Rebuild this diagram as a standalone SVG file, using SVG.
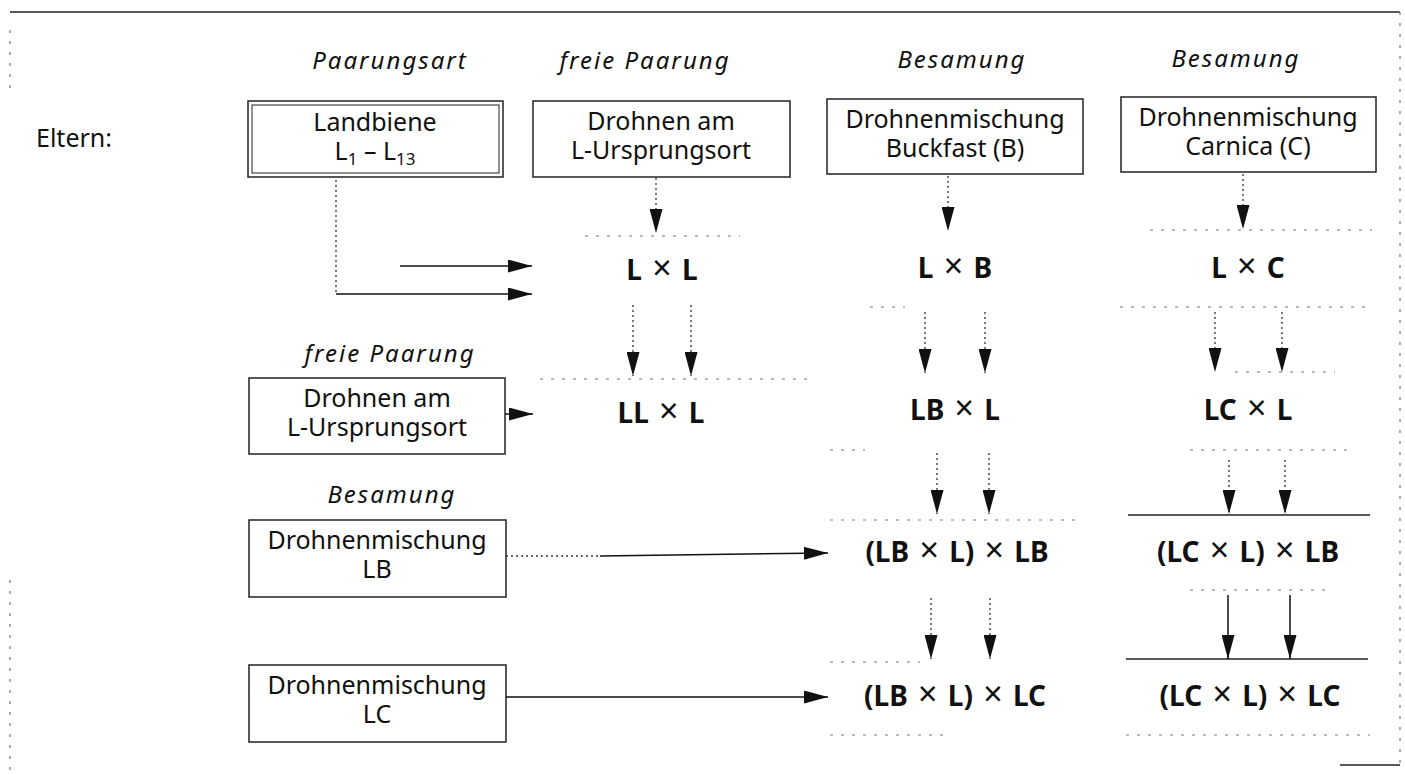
<svg xmlns="http://www.w3.org/2000/svg" width="1405" height="775" viewBox="0 0 1405 775">
<defs>
<marker id="ah" markerUnits="userSpaceOnUse" markerWidth="24" markerHeight="13" refX="24" refY="6.5" orient="auto">
<path d="M0,0 L24,6.5 L0,13 Z" fill="#111"/>
</marker>
</defs>
<style>
.box{fill:#fff;stroke:#222;stroke-width:1.5}
.t{font-family:"Noto Sans","Liberation Sans",sans-serif;font-size:25px;fill:#111;text-anchor:middle}
.lbl{font-family:"Noto Sans","Liberation Sans",sans-serif;font-size:25px;fill:#111}
.h{font-family:"Noto Sans","Liberation Sans",sans-serif;font-size:24px;font-style:italic;letter-spacing:2px;fill:#111;text-anchor:middle}
.r{font-family:"Noto Sans","Liberation Sans",sans-serif;font-size:28px;font-weight:700;word-spacing:3px;fill:#111;text-anchor:middle}
.x{font-weight:400;font-size:34px}
.sub{font-size:17px}
.c{stroke:#111;stroke-width:1.5;fill:none}
.cd{stroke:#333;stroke-width:1.3;fill:none;stroke-dasharray:2 3}
.faint{stroke:#777;stroke-width:1.2;fill:none;stroke-dasharray:3 8}
.solid{stroke:#222;stroke-width:1.5;fill:none}
.frame{stroke:#222;stroke-width:1.5;fill:none}
</style>

<g id="frame">
<line class="frame" x1="10" y1="12" x2="1400" y2="12"/>
<line class="faint" x1="1400" y1="12" x2="1400" y2="765"/>
<line class="faint" x1="10" y1="30" x2="10" y2="90"/>
<line class="faint" x1="10" y1="580" x2="10" y2="770"/>
<line class="frame" x1="1340" y1="765" x2="1400" y2="765"/>
</g>

<g id="headers">
<text class="h" x="390" y="69">Paarungsart</text>
<text class="h" x="645" y="69">freie Paarung</text>
<text class="h" x="962" y="68">Besamung</text>
<text class="h" x="1236" y="67">Besamung</text>
<text class="h" x="390" y="362">freie Paarung</text>
<text class="h" x="392" y="503">Besamung</text>
</g>

<g id="eltern">
<text class="lbl" x="36" y="147">Eltern:</text>
</g>

<g id="n-landbiene">
<rect class="box" x="248" y="101" width="255" height="76"/>
<rect x="252" y="105" width="247" height="68" fill="none" stroke="#222" stroke-width="1"/>
<text class="t" x="375" y="131">Landbiene<tspan x="375" y="160">L</tspan><tspan class="sub" dy="5">1</tspan><tspan dy="-5"> – L</tspan><tspan class="sub" dy="5">13</tspan></text>
</g>

<g id="n-drohnen-top">
<rect class="box" x="533" y="101" width="257" height="76"/>
<text class="t" x="661" y="130">Drohnen am<tspan x="661" y="159">L-Ursprungsort</tspan></text>
</g>

<g id="n-buckfast">
<rect class="box" x="827" y="99" width="256" height="75"/>
<text class="t" x="955" y="128">Drohnenmischung<tspan x="955" y="157">Buckfast (B)</tspan></text>
</g>

<g id="n-carnica">
<rect class="box" x="1121" y="97" width="255" height="75"/>
<text class="t" x="1248" y="126">Drohnenmischung<tspan x="1248" y="155">Carnica (C)</tspan></text>
</g>

<g id="n-drohnen-row3">
<rect class="box" x="249" y="378" width="256" height="76"/>
<text class="t" x="377" y="407">Drohnen am<tspan x="377" y="436">L-Ursprungsort</tspan></text>
</g>

<g id="n-lb">
<rect class="box" x="249" y="520" width="257" height="77"/>
<text class="t" x="377" y="549">Drohnenmischung<tspan x="377" y="578">LB</tspan></text>
</g>

<g id="n-lc">
<rect class="box" x="249" y="665" width="257" height="77"/>
<text class="t" x="377" y="694">Drohnenmischung<tspan x="377" y="723">LC</tspan></text>
</g>

<g id="n-lxl"><text class="r" x="662" y="280">L <tspan class="x">×</tspan> L</text></g>
<g id="n-lxb"><text class="r" x="955" y="278">L <tspan class="x">×</tspan> B</text></g>
<g id="n-lxc"><text class="r" x="1248" y="278">L <tspan class="x">×</tspan> C</text></g>
<g id="n-llxl"><text class="r" x="661" y="423">LL <tspan class="x">×</tspan> L</text></g>
<g id="n-lbxl"><text class="r" x="955" y="420">LB <tspan class="x">×</tspan> L</text></g>
<g id="n-lcxl"><text class="r" x="1248" y="420">LC <tspan class="x">×</tspan> L</text></g>
<g id="n-lbxl-lb"><text class="r" x="957" y="562">(LB <tspan class="x">×</tspan> L) <tspan class="x">×</tspan> LB</text></g>
<g id="n-lcxl-lb"><text class="r" x="1248" y="562">(LC <tspan class="x">×</tspan> L) <tspan class="x">×</tspan> LB</text></g>
<g id="n-lbxl-lc"><text class="r" x="955" y="706">(LB <tspan class="x">×</tspan> L) <tspan class="x">×</tspan> LC</text></g>
<g id="n-lcxl-lc"><text class="r" x="1250" y="706">(LC <tspan class="x">×</tspan> L) <tspan class="x">×</tspan> LC</text></g>

<g id="cell-lines">
<line class="faint" x1="585" y1="236" x2="740" y2="236"/>
<line class="faint" x1="1150" y1="230" x2="1372" y2="230"/>
<line class="faint" x1="870" y1="307" x2="905" y2="307"/>
<line class="faint" x1="1120" y1="307" x2="1372" y2="307"/>
<line class="faint" x1="540" y1="379" x2="810" y2="379"/>
<line class="faint" x1="1235" y1="372" x2="1335" y2="372"/>
<line class="faint" x1="830" y1="450" x2="865" y2="450"/>
<line class="faint" x1="1190" y1="450" x2="1355" y2="450"/>
<line class="faint" x1="830" y1="520" x2="1081" y2="520"/>
<line class="solid" x1="1128" y1="515" x2="1370" y2="515"/>
<line class="faint" x1="1190" y1="590" x2="1330" y2="590"/>
<line class="faint" x1="830" y1="662" x2="920" y2="662"/>
<line class="solid" x1="1126" y1="659" x2="1368" y2="659"/>
<line class="faint" x1="830" y1="735" x2="945" y2="735"/>
<line class="faint" x1="1126" y1="735" x2="1370" y2="735"/>
</g>

<g id="connectors">
<line class="cd" x1="656" y1="178" x2="656" y2="233" marker-end="url(#ah)"/>
<line class="cd" x1="948" y1="176" x2="948" y2="231" marker-end="url(#ah)"/>
<line class="cd" x1="1243" y1="174" x2="1243" y2="229" marker-end="url(#ah)"/>
<line class="cd" x1="336" y1="180" x2="336" y2="294"/>
<line class="c" x1="400" y1="266" x2="532" y2="266" marker-end="url(#ah)"/>
<line class="c" x1="336" y1="294" x2="532" y2="294" marker-end="url(#ah)"/>
<line class="cd" x1="633" y1="305" x2="633" y2="376" marker-end="url(#ah)"/>
<line class="cd" x1="691" y1="305" x2="691" y2="376" marker-end="url(#ah)"/>
<line class="cd" x1="925" y1="312" x2="925" y2="373" marker-end="url(#ah)"/>
<line class="cd" x1="985" y1="312" x2="985" y2="373" marker-end="url(#ah)"/>
<line class="cd" x1="1215" y1="312" x2="1215" y2="372" marker-end="url(#ah)"/>
<line class="cd" x1="1282" y1="312" x2="1282" y2="372" marker-end="url(#ah)"/>
<line class="c" x1="505" y1="414" x2="533" y2="414" marker-end="url(#ah)"/>
<line class="cd" x1="937" y1="453" x2="937" y2="514" marker-end="url(#ah)"/>
<line class="cd" x1="989" y1="453" x2="989" y2="514" marker-end="url(#ah)"/>
<line class="cd" x1="1229" y1="460" x2="1229" y2="514" marker-end="url(#ah)"/>
<line class="cd" x1="1285" y1="460" x2="1285" y2="514" marker-end="url(#ah)"/>
<line class="cd" x1="506" y1="556" x2="600" y2="556"/>
<line class="c" x1="600" y1="556" x2="828" y2="553" marker-end="url(#ah)"/>
<line class="cd" x1="931" y1="598" x2="931" y2="659" marker-end="url(#ah)"/>
<line class="cd" x1="990" y1="598" x2="990" y2="659" marker-end="url(#ah)"/>
<line class="c" x1="1228" y1="595" x2="1228" y2="659" marker-end="url(#ah)"/>
<line class="c" x1="1290" y1="595" x2="1290" y2="659" marker-end="url(#ah)"/>
<line class="c" x1="506" y1="697" x2="828" y2="697" marker-end="url(#ah)"/>
</g>
</svg>
